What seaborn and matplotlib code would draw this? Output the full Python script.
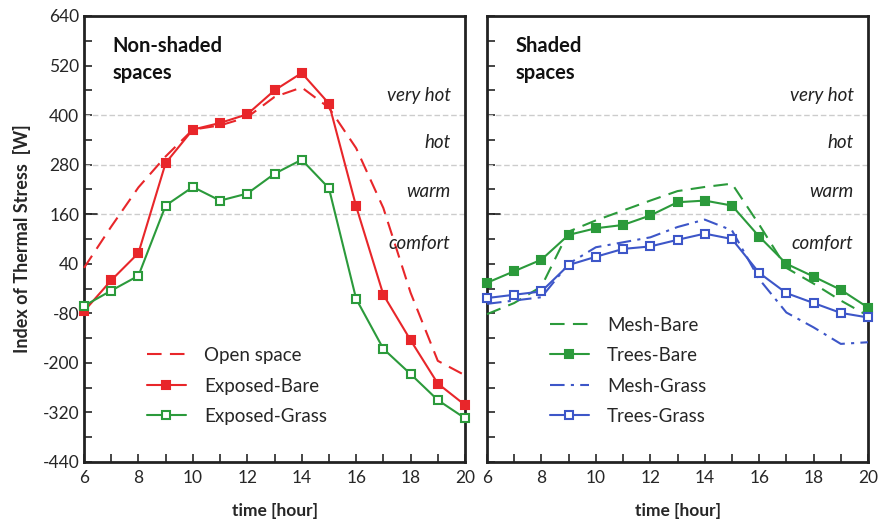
import numpy as np
import pandas as pd
import matplotlib
matplotlib.use("Agg")
import matplotlib.pyplot as plt
import seaborn as sns

hours = list(range(6, 21))

open_space    = [30, 130, 225, 300, 365, 375, 395, 444, 467, 418, 320, 175, -30, -195, -230]
exposed_bare  = [-75, 0, 66, 284, 365, 381, 402, 460, 502, 428, 179, -35, -145, -250, -302]
exposed_grass = [-62, -25, 11, 181, 226, 193, 210, 258, 292, 223, -45, -166, -227, -290, -334]

mesh_bare   = [-82, -55, -15, 118, 145, 169, 193, 216, 226, 234, 135, 30, -8, -49, -86]
trees_bare  = [-6, 22, 50, 110, 126, 134, 157, 189, 193, 181, 106, 40, 9, -23, -66]
mesh_grass  = [-57, -49, -41, 40, 80, 92, 104, 129, 147, 121, 3, -78, -114, -154, -150]
trees_grass = [-43, -35, -27, 37, 57, 76, 82, 98, 113, 100, 18, -31, -55, -79, -90]

zone_labels = ["very hot", "hot", "warm", "comfort"]
zone_values = [448, 334, 215, 90]
thresholds = [400, 280, 160]

y_ticks = list(range(-440, 641, 120))
x_ticks = list(range(6, 21, 2))

sns.set_style("ticks")
plt.rcParams['font.family'] = ['Lato', 'DejaVu Sans']
plt.rcParams['axes.unicode_minus'] = False

RED = "#e8262a"
GREEN = "#2b9a3b"
BLUE = "#3d56c8"

fig = plt.figure(figsize=(8.8, 5.25), dpi=100)
axL = fig.add_axes([84/880, 1-462/525, 381/880, 446/525])
axR = fig.add_axes([487/880, 1-462/525, 381/880, 446/525])

def draw(ax, x, y, color, ls, marker, mfc, label):
    df = pd.DataFrame({"h": x, "v": y})
    sns.lineplot(data=df, x="h", y="v", ax=ax, color=color, linestyle=ls,
                 marker=marker if marker else None, markersize=6,
                 markerfacecolor=mfc, markeredgecolor=color, markeredgewidth=1.5,
                 linewidth=1.5, label=label, clip_on=False, zorder=3)

draw(axL, hours, open_space, RED, (0, (7, 4)), None, None, "Open space")
draw(axL, hours, exposed_bare, RED, "-", "s", RED, "Exposed-Bare")
draw(axL, hours, exposed_grass, GREEN, "-", "s", "white", "Exposed-Grass")

draw(axR, hours, mesh_bare, GREEN, (0, (7, 4)), None, None, "Mesh-Bare")
draw(axR, hours, trees_bare, GREEN, "-", "s", GREEN, "Trees-Bare")
draw(axR, hours, mesh_grass, BLUE, (0, (7, 3, 1.5, 3)), None, None, "Mesh-Grass")
draw(axR, hours, trees_grass, BLUE, "-", "s", "white", "Trees-Grass")

for ax, title in [(axL, "Non-shaded\nspaces"), (axR, "Shaded\nspaces")]:
    ax.set_xlim(6, 20)
    ax.set_ylim(-440, 640)
    ax.set_xticks(x_ticks)
    ax.set_xticks(hours, minor=True)
    ax.set_yticks(y_ticks)
    ax.set_yticks([v + 60 for v in y_ticks[:-1]], minor=True)
    ax.tick_params(axis="both", which="both", direction="in", width=1.2, labelsize=12.5)
    ax.tick_params(axis="both", which="major", length=6)
    ax.tick_params(axis="both", which="minor", length=6)
    ax.tick_params(axis="x", pad=6)
    for s in ax.spines.values():
        s.set_linewidth(2)
        s.set_color("#222222")
    for t in thresholds:
        ax.axhline(t, color="#cccccc", lw=1, ls=(0, (4, 2)), zorder=1)
    ax.plot([0, 0.035], [160, 160], transform=ax.get_yaxis_transform(),
            color="#222222", lw=1.2, zorder=2)
    for lab, v in zip(zone_labels, zone_values):
        ax.text(0.962, v, lab, transform=ax.get_yaxis_transform(), ha="right",
                va="center", fontsize=13.5, style="italic", color="#222222")
    ax.text(0.075, 0.955, title, transform=ax.transAxes, ha="left", va="top",
            fontsize=14.5, fontweight="bold", color="#111111", linespacing=1.45)
    ax.set_xlabel("time [hour]", fontsize=12.5, fontweight="bold", labelpad=12)
    ax.set_ylabel("")

axR.tick_params(axis="y", labelleft=False)
axL.set_ylabel("Index of Thermal Stress  [W]", fontsize=13, fontweight="bold", labelpad=8)

for ax in (axL, axR):
    ax.legend(loc="lower left", bbox_to_anchor=(0.12, 0.045), frameon=False,
              fontsize=13.5, handlelength=2.1, labelspacing=0.72, handletextpad=0.95)

fig.savefig("out.png", dpi=100)
